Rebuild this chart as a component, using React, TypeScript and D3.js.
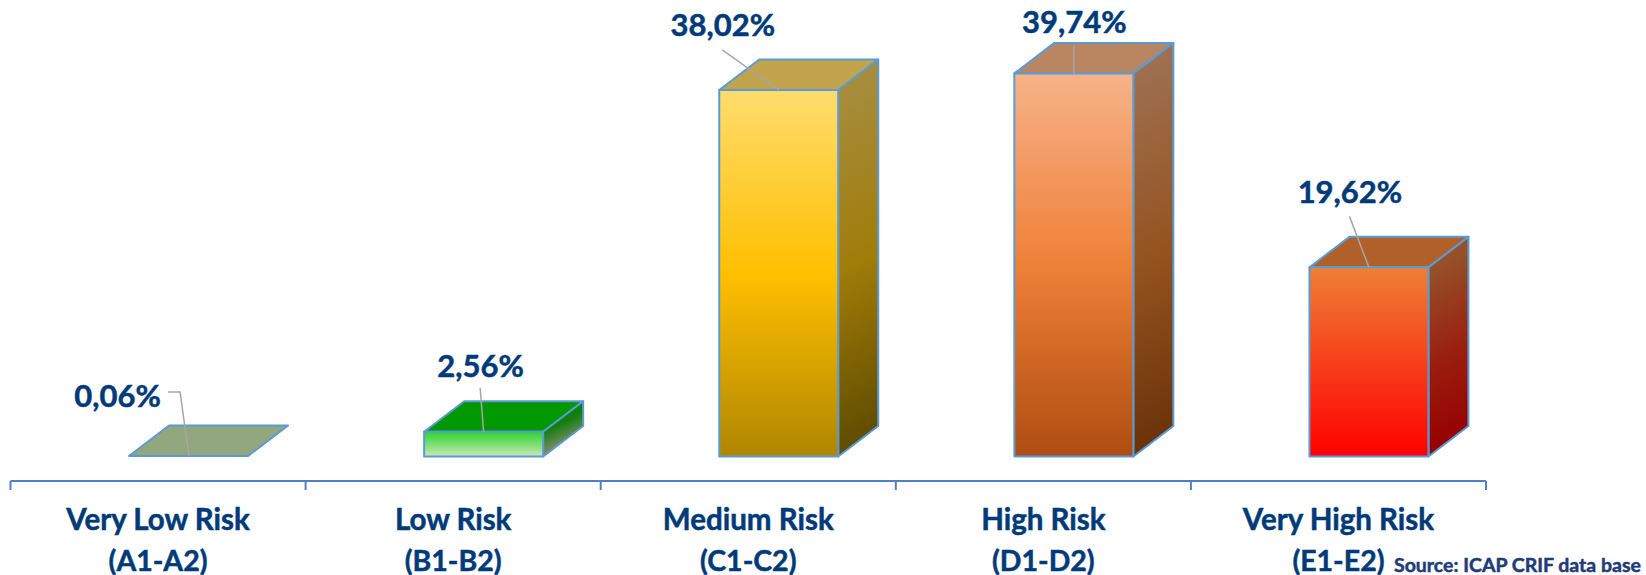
import React, { useRef, useEffect } from 'react';
import * as d3 from 'd3';

const categories = ['Very Low Risk', 'Low Risk', 'Medium Risk', 'High Risk', 'Very High Risk'];
const grades = ['(A1-A2)', '(B1-B2)', '(C1-C2)', '(D1-D2)', '(E1-E2)'];
const shares = [0.06, 2.56, 38.02, 39.74, 19.62];
const shareLabels = ['0,06%', '2,56%', '38,02%', '39,74%', '19,62%'];

const frontStops = [
  ['#c9d8b0', '#9aa988'],
  ['#2cd62c', '#cde6b8'],
  ['#ffdc6e', '#ffc000', '#b08600'],
  ['#f6b388', '#ef8038', '#ae4d10'],
  ['#ef7f34', '#ff0000'],
];
const sideStops = [
  ['#93a77f', '#93a77f'],
  ['#0f7f0f', '#8a8a6e'],
  ['#a68d3e', '#a07c08', '#5f4b00'],
  ['#9e7050', '#95531f', '#6b3208'],
  ['#95522a', '#9a2010', '#960000'],
];
const topColors = ['#93a77f', '#029802', '#c2a44f', '#b98661', '#b1602a'];

// label and leader placement, relative to the middle of the front face's top edge
const labelOffsets = [[-71, -49], [-3, -55], [-56, -53.5], [0.5, -40], [-19, -64]];
const leaderOffsets = [
  [[-20.5, -64], [-8.5, -64], [0.5, 0]],
  [[-3.5, -44], [0, 0]],
  [[-56.5, -40], [0, 0]],
  [[0, -28], [0, 0]],
  [[-19.5, -51], [0, 0]],
];

const WIDTH = 1646;
const HEIGHT = 575;
const BASE_Y = 456.5;
const AXIS_Y = 481;
const DEPTH_X = 40;
const DEPTH_Y = 30.5;
const FRONT_W = 119;
const EDGE = '#5b9bd5';
const NAVY = '#003a78';

const App: React.FC = () => {
  const svgRef = useRef<SVGSVGElement | null>(null);

  useEffect(() => {
    if (!svgRef.current) return;
    const svg = d3.select(svgRef.current);
    svg.selectAll('*').remove();

    const x = d3.scaleBand<string>().domain(categories).range([10.5, 1486]);
    const y = d3.scaleLinear().domain([0, 45]).range([BASE_Y, BASE_Y - 45 * 9.64]);
    const defs = svg.append('defs');

    const addStops = (g: any, stops: string[]) => {
      stops.forEach((c, k) => {
        g.append('stop').attr('offset', k / (stops.length - 1)).attr('stop-color', c);
      });
    };

    frontStops.forEach((stops, i) => {
      const g = defs.append('linearGradient').attr('id', `front${i}`)
        .attr('x1', 0).attr('y1', 0).attr('x2', 0).attr('y2', 1);
      addStops(g, stops);
    });

    // category axis
    svg.append('line')
      .attr('x1', x.range()[0]).attr('x2', x.range()[1])
      .attr('y1', AXIS_Y).attr('y2', AXIS_Y)
      .attr('stroke', '#4f7fc8').attr('stroke-width', 2);
    const ticks = [...categories.map(c => x(c) as number), x.range()[1]];
    svg.selectAll('.tick').data(ticks).enter().append('line')
      .attr('x1', d => d).attr('x2', d => d)
      .attr('y1', AXIS_Y).attr('y2', AXIS_Y + 9)
      .attr('stroke', '#4f7fc8').attr('stroke-width', 2);

    const addText = (tx: number, ty: number, size: number, str: string, anchor = 'middle', color = NAVY) =>
      svg.append('text')
        .attr('x', tx).attr('y', ty)
        .attr('text-anchor', anchor)
        .attr('font-family', 'Lato').attr('font-weight', 700).attr('font-size', size)
        .attr('fill', color).attr('stroke', color).attr('stroke-width', 0.5)
        .text(str);

    categories.forEach((c, i) => {
      const center = (x(c) as number) + x.bandwidth() / 2;
      const left = center + 30.5 - FRONT_W / 2;
      const right = left + FRONT_W;
      const top = y(shares[i]);
      const mid = left + FRONT_W / 2;
      const h = BASE_Y - top;

      // side shading runs on a slant, lighter towards the top right
      const side = defs.append('linearGradient').attr('id', `side${i}`)
        .attr('gradientUnits', 'userSpaceOnUse')
        .attr('x1', right).attr('y1', top)
        .attr('x2', right + 0.4 * h).attr('y2', top + 0.8 * h);
      addStops(side, sideStops[i]);

      const bar = svg.append('g');
      const face = (pts: number[][], fill: string) =>
        bar.append('path')
          .attr('d', d3.line()(pts as [number, number][]) + 'Z')
          .attr('fill', fill).attr('stroke', EDGE)
          .attr('stroke-width', 2).attr('stroke-linejoin', 'round');

      face([[left, top], [left + DEPTH_X, top - DEPTH_Y], [right + DEPTH_X, top - DEPTH_Y], [right, top]], topColors[i]);
      if (i > 0) {
        face([[right, top], [right + DEPTH_X, top - DEPTH_Y], [right + DEPTH_X, BASE_Y - DEPTH_Y], [right, BASE_Y]], `url(#side${i})`);
        face([[left, top], [right, top], [right, BASE_Y], [left, BASE_Y]], `url(#front${i})`);
      }

      const leader = leaderOffsets[i].map(([dx, dy]) => [mid + dx, top + dy] as [number, number]);
      bar.append('path')
        .attr('d', d3.line()(leader))
        .attr('fill', 'none').attr('stroke', '#a6a6a6').attr('stroke-width', 1.5);

      addText(mid + labelOffsets[i][0], top + labelOffsets[i][1], 31, shareLabels[i]);
      addText(center, 530, 29.5, c);
      addText(center, 570.5, 28.5, grades[i]);
    });

    addText(1394, 571.5, 19.5, 'Source: ICAP CRIF data base', 'start', '#1f3c78');
  }, []);

  return (
    <svg
      ref={svgRef}
      width={WIDTH}
      height={HEIGHT}
      style={{ position: 'absolute', left: 0, top: 0, display: 'block', background: '#fff' }}
    />
  );
};

export default App;
